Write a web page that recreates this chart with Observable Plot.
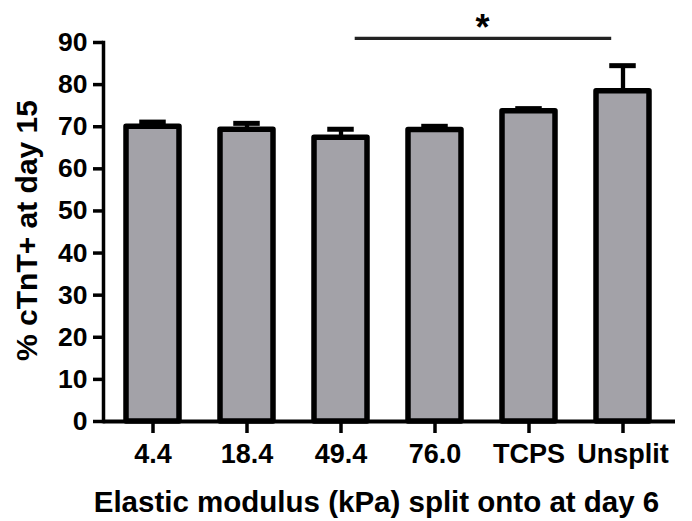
<!DOCTYPE html>
<html>
<head>
<meta charset="utf-8">
<script src="https://cdn.jsdelivr.net/npm/d3@7"></script>
<script src="https://cdn.jsdelivr.net/npm/@observablehq/plot@0.6"></script>
<style>
  html, body { margin: 0; padding: 0; background: #fff; }
  #chart svg { display: block; }
</style>
</head>
<body>
<div id="chart"></div>
<script>
const categories = ["4.4", "18.4", "49.4", "76.0", "TCPS", "Unsplit"];
const means = [70.0, 69.3, 67.4, 69.2, 73.7, 78.4];
const errors = [1.1, 1.5, 2.0, 0.9, 0.6, 6.1];
const yTicks = [0, 10, 20, 30, 40, 50, 60, 70, 80, 90];
const yTitle = "% cTnT+ at day 15";
const xTitle = "Elastic modulus (kPa) split onto at day 6";
const sigFrom = "49.4", sigTo = "Unsplit", sigLevel = 91, sigLabel = "*", sigLabelLevel = 93.3;

const data = categories.map((c, i) => ({cat: c, mean: means[i], top: means[i] + errors[i]}));
const font = "'Liberation Sans', Arial, Helvetica, sans-serif";

const chart = Plot.plot({
  width: 692,
  height: 521,
  marginLeft: 103,
  marginRight: 17,
  marginTop: 42,
  marginBottom: 100,
  style: {fontFamily: font, color: "#000", background: "#fff"},
  x: {domain: categories, paddingInner: 0.437, paddingOuter: 0.23, align: 0.465},
  y: {domain: [0, 90]},
  marks: [
    Plot.barY(data, {x: "cat", y: "mean", fill: "#a3a2a8", stroke: "#000", strokeWidth: 5.5, strokeLinejoin: "round"}),
    Plot.ruleX(data, {x: "cat", y1: "mean", y2: "top", stroke: "#000", strokeWidth: 4.3}),
    Plot.tickY(data, {x: "cat", y: "top", stroke: "#000", strokeWidth: 5, insetLeft: 13.25, insetRight: 13.25}),
    Plot.axisY({ticks: yTicks, tickSize: 10, tickPadding: 6, strokeWidth: 3.5, fontSize: 26.5, fontWeight: "bold", label: null, tickFormat: d => String(d)}),
    Plot.axisX({tickSize: 12, tickPadding: 10, strokeWidth: 3.5, fontSize: 27, fontWeight: "bold", label: null}),
    Plot.ruleY([0], {stroke: "#000", strokeWidth: 4}),
    Plot.frame({anchor: "left", stroke: "#000", strokeWidth: 3.5}),
    Plot.ruleY([sigLevel], {x1: () => sigFrom, x2: () => sigTo, y: d => d, stroke: "#222", strokeWidth: 3.2, insetLeft: 40.7, insetRight: 37.8}),
    Plot.text([sigLabel], {x: () => "76.0", y: () => sigLabelLevel, text: d => d, dx: 47.5, fontSize: 36, fontWeight: "bold", fill: "#000", lineAnchor: "middle"}),
    Plot.text([yTitle], {frameAnchor: "left", textAnchor: "middle", lineAnchor: "middle", rotate: -90, dx: -76, dy: -1.5, text: d => d, fontSize: 30, fontWeight: "bold", fill: "#000"}),
    Plot.text([xTitle], {frameAnchor: "bottom", textAnchor: "middle", lineAnchor: "middle", dx: -13, dy: 81.4, text: d => d, fontSize: 29.5, fontWeight: "bold", fill: "#000"})
  ]
});
document.getElementById("chart").appendChild(chart);
</script>
</body>
</html>
